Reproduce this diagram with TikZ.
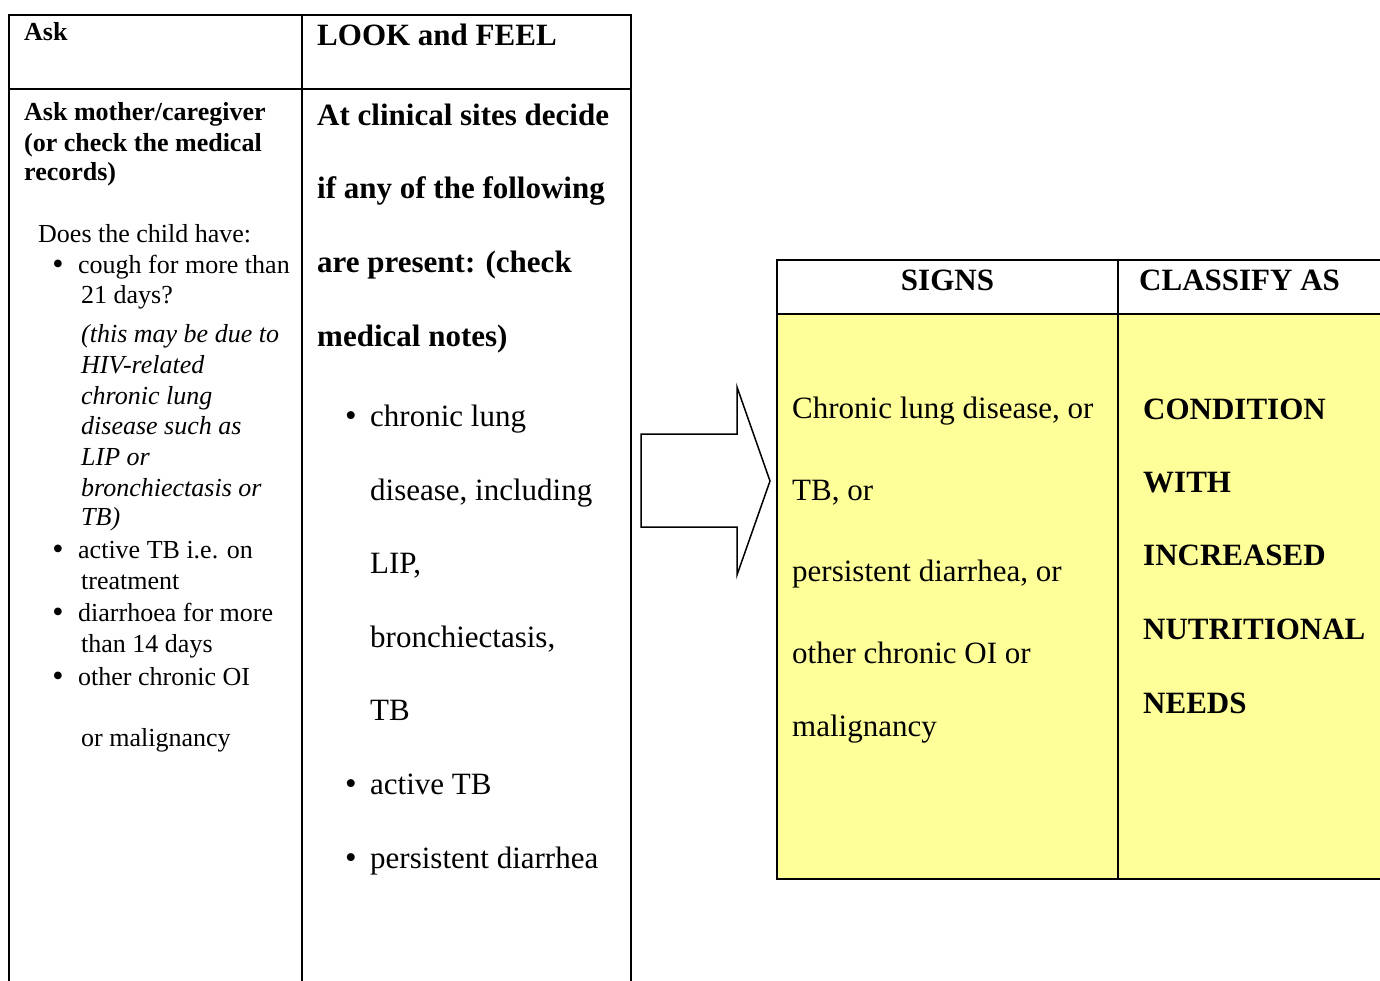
\documentclass[tikz,border=0pt]{standalone}
\usepackage{fontspec}
\setmainfont{Liberation Serif}
\definecolor{cellyellow}{HTML}{FFFF99}
\begin{document}
\begin{tikzpicture}[x=1pt,y=-1pt,
  rule/.style={line width=2pt,black},
  sm/.style={anchor=base west,inner sep=0pt,font=\fontsize{26}{30}\selectfont},
  smb/.style={sm,font=\fontsize{26}{30}\selectfont\bfseries},
  smi/.style={sm,font=\fontsize{26}{30}\selectfont\itshape},
  smdot/.style={anchor=base,inner sep=0pt,font=\fontsize{32}{30}\selectfont},
  bg/.style={anchor=base west,inner sep=0pt,font=\fontsize{31}{36}\selectfont},
  bgb/.style={bg,font=\fontsize{31}{36}\selectfont\bfseries},
  bgdot/.style={anchor=base,inner sep=0pt,font=\fontsize{33}{36}\selectfont},
  arrowshape/.style={line width=1.5pt,fill=white,line join=miter}]
\useasboundingbox (0,0) rectangle (1380,980);
% ---------- left table ----------
\draw[rule] (9,15) -- (631,15);
\draw[rule] (9,89) -- (631,89);
\draw[rule] (9,14) -- (9,985);
\draw[rule] (302,14) -- (302,985);
\draw[rule] (631,14) -- (631,985);
% column 1
\node[smb] (ask) at (24,40) {Ask};
\node[smb] (am1) at (24,120) {Ask mother/caregiver};
\node[smb] (am2) at (24,151) {(or check the medical};
\node[smb] (am3) at (24,180) {records)};
\node[sm] (does) at (38,242) {Does the child have:};
\node[smdot] (b1) at (58,274) {•};
\node[sm] (c1) at (78,273) {cough for more than};
\node[sm] (c2) at (81,303) {21 days?};
\node[smi] (i1) at (81,342) {(this may be due to};
\node[smi] (i2) at (81,373) {HIV-related};
\node[smi] (i3) at (81,404) {chronic lung};
\node[smi] (i4) at (81,434) {disease such as};
\node[smi] (i5) at (81,465) {LIP or};
\node[smi] (i6) at (81,496) {bronchiectasis or};
\node[smi] (i7) at (81,525) {TB)};
\node[smdot] (b2) at (58,559) {•};
\node[sm] (a1) at (78,558) {active TB i.e. on};
\node[sm] (a2) at (81,589) {treatment};
\node[smdot] (b3) at (58,622) {•};
\node[sm] (d1) at (78,621) {diarrhoea for more};
\node[sm] (d2) at (81,652) {than 14 days};
\node[smdot] (b4) at (58,686) {•};
\node[sm] (o1) at (78,685) {other chronic OI};
\node[sm] (o2) at (81,746) {or malignancy};
% column 2
\node[bgb] (look) at (317,45) {LOOK and FEEL};
\node[bgb] (at1) at (317,125) {At clinical sites decide};
\node[bgb] (at2) at (317,198) {if any of the following};
\node[bgb] (at3) at (317,272) {are present: (check};
\node[bgb] (at4) at (317,346) {medical notes)};
\node[bgdot] (r1) at (351,426) {•};
\node[bg] (cl1) at (370,426) {chronic lung};
\node[bg] (cl2) at (370,500) {disease, including};
\node[bg] (cl3) at (370,573) {LIP,};
\node[bg] (cl4) at (370,647) {bronchiectasis,};
\node[bg] (cl5) at (370,720) {TB};
\node[bgdot] (r2) at (351,794) {•};
\node[bg] (atb) at (370,794) {active TB};
\node[bgdot] (r3) at (351,868) {•};
\node[bg] (pd) at (370,868) {persistent diarrhea};
% ---------- arrow ----------
\draw[arrowshape] (641,434) -- (737,434) -- (737,387) -- (770,481) -- (737,575) -- (737,527) -- (641,527) -- cycle;
% ---------- right table ----------
\fill[cellyellow] (777,314) rectangle (1380,879);
\draw[rule] (776,260) -- (1382,260);
\draw[rule] (776,314) -- (1382,314);
\draw[rule] (776,879) -- (1382,879);
\draw[rule] (777,259) -- (777,880);
\draw[rule] (1118,259) -- (1118,880);
\node[bgb,anchor=base] (signs) at (947.5,290) {SIGNS};
\node[bgb] (classify) at (1139,290) {CLASSIFY AS};
\node[bg] (s1) at (792,418) {Chronic lung disease, or};
\node[bg] (s2) at (792,500) {TB, or};
\node[bg] (s3) at (792,581) {persistent diarrhea, or};
\node[bg] (s4) at (792,663) {other chronic OI or};
\node[bg] (s5) at (792,736) {malignancy};
\node[bgb] (k1) at (1143,419) {CONDITION};
\node[bgb] (k2) at (1143,492) {WITH};
\node[bgb] (k3) at (1143,565) {INCREASED};
\node[bgb] (k4) at (1143,639) {NUTRITIONAL};
\node[bgb] (k5) at (1143,713) {NEEDS};
\end{tikzpicture}
\end{document}
